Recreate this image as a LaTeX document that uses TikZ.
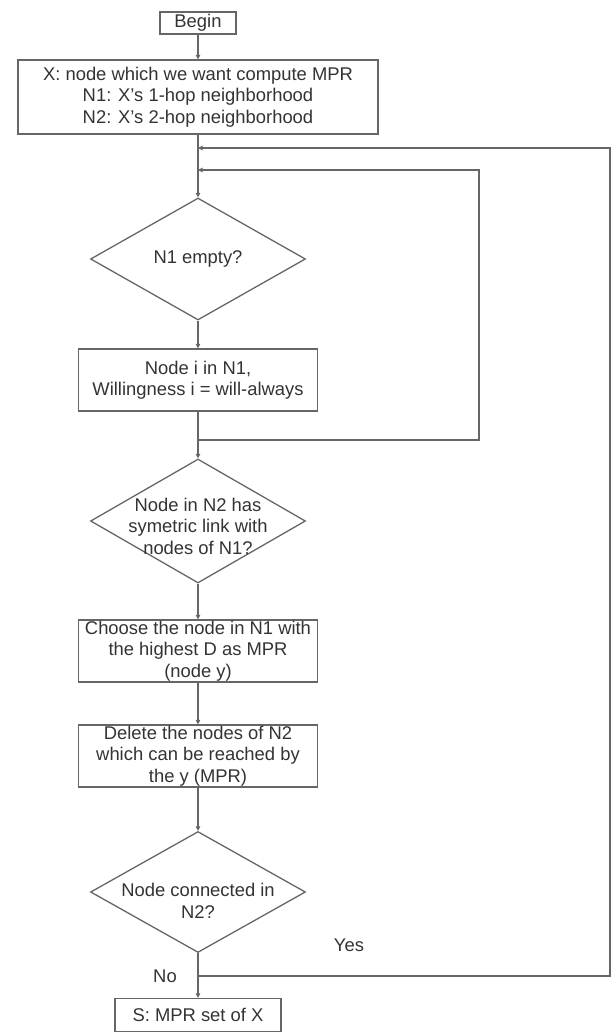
\documentclass[tikz,border=0pt]{standalone}
\usepackage{fontspec}
\setmainfont{Liberation Sans}
\usetikzlibrary{shapes.geometric,arrows.meta}
\begin{document}
\begin{tikzpicture}[x=1pt,y=-1pt,
  every node/.style={text=black!80, font=\fontsize{18.4}{21.5}\selectfont},
  box/.style={draw=black!60, line width=1.3pt, rectangle, inner sep=0pt, align=center},
  dia/.style={draw=black!60, line width=1.3pt, diamond, inner sep=0pt,
              minimum width=215pt, minimum height=122pt},
  txt/.style={align=center, inner sep=0pt},
  wire/.style={draw=black!60, line width=1.3pt},
  flow/.style={wire, -{Triangle[length=4.5pt,width=4.5pt]}}]
\useasboundingbox (0,0) rectangle (611,1034);

% blocks of the flowchart
\node[box, minimum width=76pt, minimum height=22pt] (begin) at (198,23) {Begin};
\node[box, minimum width=360pt, minimum height=74pt] (info) at (198,97)
  {X: node which we want compute MPR\\N1: X's 1-hop neighborhood\\N2: X's 2-hop neighborhood};
\node[dia] (d1) at (198,259) {N1 empty?};
\node[box, minimum width=239pt, minimum height=62pt] (willing) at (198,380)
  {Node i in N1,\\Willingness i = will-always};
\node[dia, minimum height=124pt] (d2) at (198,521) {};
\node[txt] (d2t) at (198,526) {Node in N2 has\\symetric link with\\nodes of N1?};
\node[box, minimum width=239pt, minimum height=62pt] (choose) at (198,651)
  {Choose the node in N1 with\\the highest D as MPR\\(node y)};
\node[box, minimum width=239pt, minimum height=62pt] (delete) at (198,756)
  {Delete the nodes of N2\\which can be reached by\\the y (MPR)};
\node[dia, minimum height=121pt] (d3) at (198,892) {};
\node[txt] (d3t) at (198,901) {Node connected in\\N2?};
\node[box, minimum width=166pt, minimum height=33pt] (result) at (198,1015) {S: MPR set of X};

% branch labels
\node[txt] (yes) at (349,945) {Yes};
\node[txt] (no) at (165,976) {No};

% junctions on the main line and corners of the loops
\coordinate (jOuter) at (198,148);
\coordinate (jInner) at (198,170);
\coordinate (split) at (198,440);
\coordinate (innerA) at (479,440);
\coordinate (innerB) at (479,170);
\coordinate (yesJ) at (198,976);
\coordinate (outerA) at (610,976);
\coordinate (outerB) at (610,148);

% main flow
\draw[flow] (begin) -- (info);
\draw[flow] (info) -- (d1);
\draw[flow] (d1) -- (willing);
\draw[flow] (willing) -- (d2);
\draw[flow] (d2) -- (choose);
\draw[flow] (choose) -- (delete);
\draw[flow] (delete) -- (d3);
\draw[flow] (d3) -- (result);

% loop back to the emptiness test
\draw[flow] (split) -- (innerA) -- (innerB) -- (jInner);
% loop back while N2 is still connected
\draw[flow] (yesJ) -- (outerA) -- (outerB) -- (jOuter);
\end{tikzpicture}
\end{document}
